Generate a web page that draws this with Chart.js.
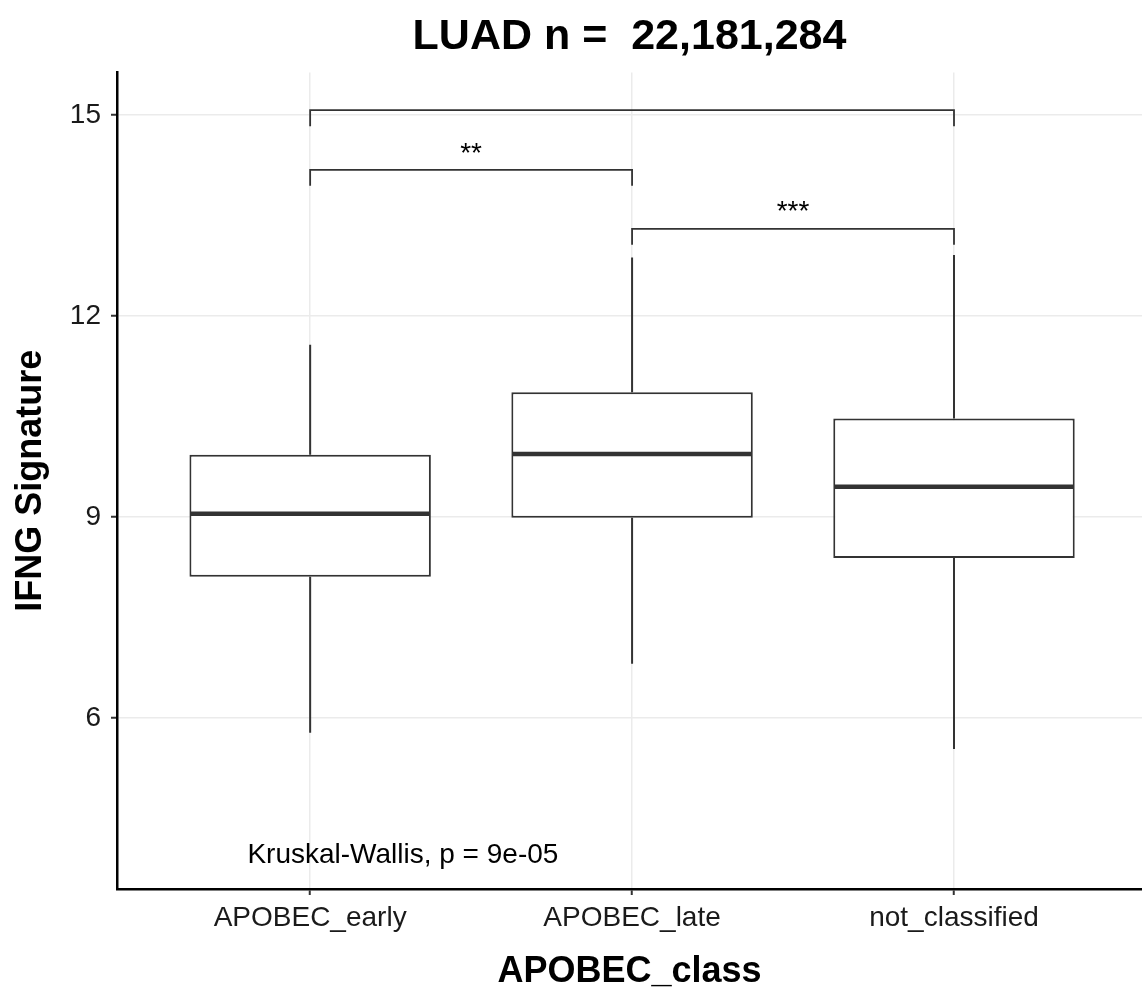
<!DOCTYPE html>
<html>
<head>
<meta charset="utf-8">
<script src="https://cdn.jsdelivr.net/npm/chart.js@4.4.0/dist/chart.umd.min.js"></script>
<style>
html, body { margin: 0; padding: 0; background: #fff; }
</style>
</head>
<body>
<canvas id="box-chart" width="1142" height="990"></canvas>
<script>
// data
var categories = ["APOBEC_early", "APOBEC_late", "not_classified"];
var whiskerLow = [5.78, 6.81, 5.54];
var q1 = [8.11, 8.99, 8.39];
var medians = [9.05, 9.94, 9.45];
var q3 = [9.93, 10.86, 10.47];
var whiskerHigh = [11.57, 12.87, 12.91];
var yTicks = [6, 9, 12, 15];

// pairwise comparisons
var bracketFrom = [0, 0, 1];
var bracketTo = [2, 1, 2];
var bracketY = [15.07, 14.18, 13.30];
var bracketLabels = ["", "**", "***"];

var titleText = "LUAD n =  22,181,284";
var kwText = "Kruskal-Wallis, p = 9e-05";
var kwX = -0.195;
var kwY = 3.95;

var FONT = "'Liberation Sans', Arial, Helvetica, sans-serif";
var INK = "#333333";

var boxExtras = {
    id: "boxExtras",
    afterDatasetsDraw: function (chart) {
        var c = chart.ctx;
        var xs = chart.scales.x;
        var ys = chart.scales.y;
        var meta = chart.getDatasetMeta(0);
        c.save();
        c.strokeStyle = INK;
        c.lineCap = "butt";
        meta.data.forEach(function (bar, i) {
            var half = bar.width / 2;
            // whiskers
            c.lineWidth = 2;
            c.beginPath();
            c.moveTo(bar.x, ys.getPixelForValue(whiskerHigh[i]));
            c.lineTo(bar.x, ys.getPixelForValue(q3[i]));
            c.moveTo(bar.x, ys.getPixelForValue(q1[i]));
            c.lineTo(bar.x, ys.getPixelForValue(whiskerLow[i]));
            c.stroke();
            // median
            c.lineWidth = 4.5;
            c.beginPath();
            c.moveTo(bar.x - half + 1, ys.getPixelForValue(medians[i]));
            c.lineTo(bar.x + half - 1, ys.getPixelForValue(medians[i]));
            c.stroke();
        });

        // brackets
        c.lineWidth = 1.8;
        c.fillStyle = "#000";
        c.font = "28px " + FONT;
        c.textAlign = "center";
        c.textBaseline = "middle";
        for (var k = 0; k < bracketY.length; k++) {
            var x0 = xs.getPixelForValue(bracketFrom[k]);
            var x1 = xs.getPixelForValue(bracketTo[k]);
            var y = ys.getPixelForValue(bracketY[k]);
            c.beginPath();
            c.moveTo(x0, y + 16);
            c.lineTo(x0, y);
            c.lineTo(x1, y);
            c.lineTo(x1, y + 16);
            c.stroke();
            if (bracketLabels[k]) {
                c.fillText(bracketLabels[k], (x0 + x1) / 2, y - 16);
            }
        }

        // Kruskal-Wallis label
        c.textAlign = "left";
        c.fillStyle = "#000";
        c.fillText(kwText, xs.getPixelForValue(kwX), ys.getPixelForValue(kwY));
        c.restore();
    }
};

var ctx = document.getElementById("box-chart");
var boxChart = new Chart(ctx, {
    type: "bar",
    data: {
        datasets: [{
            label: "IFNG Signature",
            data: categories.map(function (c, i) { return {x: i, y: [q1[i], q3[i]]}; }),
            backgroundColor: "#ffffff",
            borderColor: INK,
            borderWidth: 2,
            borderSkipped: false,
            barPercentage: 0.75,
            categoryPercentage: 1
        }]
    },
    options: {
        responsive: false,
        animation: false,
        layout: {padding: 0},
        plugins: {
            legend: {display: false},
            tooltip: {enabled: false},
            title: {
                display: true,
                text: titleText,
                fullSize: false,
                color: "#000",
                font: {family: FONT, size: 43, weight: "bold"},
                padding: {top: 11, bottom: 10}
            }
        },
        scales: {
            x: {
                type: "linear",
                min: -0.6,
                max: 2.584,
                offset: false,
                afterBuildTicks: function (s) {
                    s.ticks = categories.map(function (c, i) { return {value: i}; });
                },
                afterFit: function (s) { s.height = 101; },
                grid: {color: "#ebebeb", lineWidth: 1.5, offset: false, tickColor: INK, tickLength: 6, tickWidth: 2},
                border: {color: "#000", width: 2.5},
                ticks: {
                    callback: function (v) { return categories[v]; },
                    color: "#1a1a1a",
                    font: {family: FONT, size: 28},
                    padding: 6,
                    maxRotation: 0,
                    autoSkip: false
                },
                title: {
                    display: true,
                    text: "APOBEC_class",
                    color: "#000",
                    font: {family: FONT, size: 36, weight: "bold"},
                    padding: {top: 0, bottom: -4}
                }
            },
            y: {
                min: 3.45,
                max: 15.63,
                afterBuildTicks: function (s) {
                    s.ticks = yTicks.map(function (v) { return {value: v}; });
                },
                afterFit: function (s) { s.width = 117; },
                grid: {color: "#ebebeb", lineWidth: 1.5, tickColor: INK, tickLength: 6, tickWidth: 2},
                border: {color: "#000", width: 2.5},
                ticks: {
                    color: "#1a1a1a",
                    font: {family: FONT, size: 28},
                    padding: 10
                },
                title: {
                    display: true,
                    text: "IFNG Signature",
                    color: "#000",
                    font: {family: FONT, size: 36, weight: "bold"},
                    padding: {top: 9, bottom: 0}
                }
            }
        }
    },
    plugins: [boxExtras]
});
</script>
</body>
</html>
